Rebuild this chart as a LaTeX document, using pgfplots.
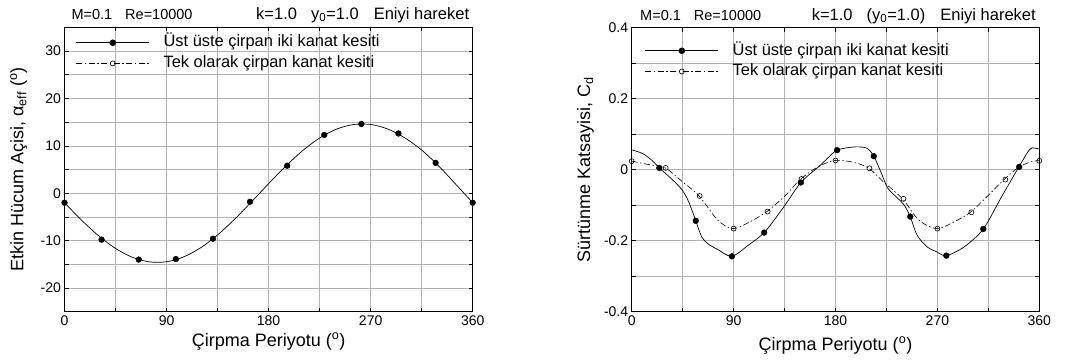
\documentclass[border=0pt]{standalone}
\usepackage{fontspec}
\setmainfont{Liberation Sans}
\usepackage{pgfplots}
\usepackage{pgfplotstable}
\pgfplotsset{compat=1.18}

% Effective angle of attack over one flapping period
\pgfplotstableread{
th a
0   -2.01
15  -5.68
30  -8.97
45  -11.65
60  -13.53
75  -14.49
90  -14.46
105 -13.45
120 -11.52
135 -8.81
150 -5.49
165 -1.80
180  2.01
195  5.68
210  8.97
225  11.65
240  13.53
255  14.49
270  14.50
285  13.55
300  11.70
315  9.10
330  5.75
345  1.90
360 -2.01
}\alphaline
\pgfplotstableread{
th a
0     -2.0
32.7  -9.8
65.5  -14.0
98.2  -13.9
130.9 -9.6
163.6 -1.8
196.4  5.8
229.1  12.3
261.8  14.6
294.5  12.6
327.3  6.4
360   -2.0
}\alphamarks

% Drag coefficient: biplane (two airfoils flapping on top of each other)
\pgfplotstableread{
th cd
0     0.056
10    0.045
18.7  0.024
24.4  0.005
35.9 -0.028
44.5 -0.057
50.3 -0.090
56.6 -0.144
61.8 -0.189
67.5 -0.209
76.1 -0.225
88.5 -0.244
102  -0.215
117  -0.177
133.6 -0.108
149.4 -0.036
165   0.008
173   0.032
181.4 0.055
195.9 0.064
207.4 0.061
213.8 0.038
220.4 -0.009
226.2 -0.052
234.8 -0.080
240.5 -0.099
246  -0.132
252  -0.184
260.7 -0.217
269.3 -0.231
277.9 -0.242
293.8 -0.217
310.5 -0.167
326.9 -0.075
342.2 0.009
351.4 0.057
355.7 0.061
360   0.058
}\cdbiline
\pgfplotstableread{
th cd
24.4   0.005
56.6  -0.144
88.5  -0.244
117   -0.177
149.4 -0.036
181.4  0.055
213.8  0.038
246   -0.132
277.9 -0.242
310.5 -0.167
342.2  0.008
}\cdbimarks

% Drag coefficient: single flapping airfoil
\pgfplotstableread{
th cd
0     0.024
15.8  0.014
29.6  0.005
44.5 -0.033
59.5 -0.074
76   -0.142
89.4 -0.166
105  -0.146
119.3 -0.118
135  -0.075
149.4 -0.026
165   0.009
179.5 0.026
195.9 0.021
209.5 0.004
221.9 -0.033
239.2 -0.082
253.6 -0.142
269.5 -0.166
285.3 -0.146
299.1 -0.120
314.1 -0.075
328.8 -0.028
342.3 0.008
354.4 0.024
360   0.025
}\cdmonoline
\pgfplotstableread{
th cd
0    0.024
30   0.005
60  -0.074
90  -0.166
120 -0.118
150 -0.026
180  0.026
210  0.004
240 -0.082
270 -0.166
300 -0.120
330 -0.028
360  0.025
}\cdmonomarks

\newcommand\labelfont{\fontsize{18}{21.5}\selectfont}

\pgfplotsset{
  panel/.style={
    scale only axis,
    xmin=0, xmax=360,
    xtick={0,90,180,270,360},
    minor xtick={45,135,225,315},
    grid=both,
    grid style={gray!60, line width=0.5pt},
    minor grid style={gray!60, line width=0.5pt},
    axis line style={black, line width=0.8pt},
    tick style={black, line width=0.5pt},
    major tick length=4pt, minor tick length=4pt,
    tick align=inside,
    /pgf/number format/assume math mode=true,
    ticklabel style={font=\fontsize{14}{16}\selectfont},
    xlabel style={anchor=base},
    ylabel style={anchor=base},
    clip mode=individual,
    legend cell align=left,
    legend image code/.code={%
      \draw[mark repeat=2,mark phase=2] plot coordinates {(0pt,0pt) (36.5pt,0pt) (73pt,0pt)};},
    legend style={draw=none, fill=none, inner sep=0pt, outer sep=0pt,
      font=\fontsize{16.4}{18}\selectfont, row sep=5.2pt, column sep=14pt,
      nodes={inner sep=0pt, text height=12pt, text depth=3.5pt}},
  },
  biplane/.style={black, line width=0.7pt},
  biplanemark/.style={black, only marks, mark=*, mark size=2.9pt, mark options={solid, fill=black}},
  mono/.style={black, line width=0.6pt, dash pattern=on 6pt off 2.5pt on 1.5pt off 2.5pt},
  monomark/.style={black, only marks, mark=o, mark size=2.5pt, mark options={solid, fill=white, line width=0.6pt}},
}

\begin{document}
\begin{tikzpicture}
\useasboundingbox (0pt,0pt) rectangle (1066pt,-362pt);

\begin{axis}[panel,
  at={(64.5pt,-311.7pt)}, anchor=south west,
  width=408.2pt, height=284.4pt,
  ymin=-25, ymax=35,
  ytick={-20,-10,0,10,20,30},
  minor ytick={-15,-5,5,15,25},
  xlabel={\labelfont Çirpma Periyotu (\textsuperscript{o})},
  ylabel={\labelfont Etkin Hücum Açisi, α\textsubscript{eff} (\textsuperscript{o})},
  xlabel style={at={(axis description cs:0.5,-0.1206)}},
  ylabel style={at={(axis description cs:-0.101,0.5)}},
  legend style={at={(rel axis cs:0.028,0.973)}, anchor=north west},
]
\addlegendimage{biplane, mark=*, mark size=2.9pt, mark options={solid, fill=black}}
\addlegendentry{Üst üste çirpan iki kanat kesiti}
\addlegendimage{mono, mark=o, mark size=2.5pt, mark options={solid, fill=white}}
\addlegendentry{Tek olarak çirpan kanat kesiti}
\addplot[biplane, smooth, forget plot] table[x=th, y=a] {\alphaline};
\addplot[biplanemark, forget plot] table[x=th, y=a] {\alphamarks};
\node[anchor=base west, font=\fontsize{14.5}{16}\selectfont]
  at (rel axis cs:0,1) [xshift=3.5pt, yshift=8pt] {M=0.1\hspace*{13pt}Re=10000};
\node[anchor=base east, font=\fontsize{16.5}{18}\selectfont]
  at (rel axis cs:1,1) [yshift=8pt] {k=1.0\hspace*{14pt}y\textsubscript{0}=1.0\hspace*{15pt}Eniyi hareket};
\end{axis}

\begin{axis}[panel,
  at={(631.7pt,-311.7pt)}, anchor=south west,
  width=407.6pt, height=284pt,
  ymin=-0.4, ymax=0.4,
  ytick={-0.4,-0.2,0,0.2,0.4},
  minor ytick={-0.3,-0.1,0.1,0.3},
  xlabel={\labelfont Çirpma Periyotu (\textsuperscript{o})},
  ylabel={\labelfont Sürtünme Katsayisi, C\textsubscript{d}},
  xlabel style={at={(axis description cs:0.5,-0.1349)}},
  ylabel style={at={(axis description cs:-0.1023,0.5)}},
  legend style={at={(rel axis cs:0.0326,0.946)}, anchor=north west},
]
\addlegendimage{biplane, mark=*, mark size=2.9pt, mark options={solid, fill=black}}
\addlegendentry{Üst üste çirpan iki kanat kesiti}
\addlegendimage{mono, mark=o, mark size=2.5pt, mark options={solid, fill=white}}
\addlegendentry{Tek olarak çirpan kanat kesiti}
\addplot[mono, smooth, forget plot] table[x=th, y=cd] {\cdmonoline};
\addplot[biplane, smooth, tension=0.5, forget plot] table[x=th, y=cd] {\cdbiline};
\addplot[monomark, forget plot] table[x=th, y=cd] {\cdmonomarks};
\addplot[biplanemark, forget plot] table[x=th, y=cd] {\cdbimarks};
\node[anchor=base west, font=\fontsize{14.5}{16}\selectfont]
  at (rel axis cs:0,1) [xshift=5pt, yshift=7.7pt] {M=0.1\hspace*{13pt}Re=10000};
\node[anchor=base east, font=\fontsize{16.5}{18}\selectfont]
  at (rel axis cs:1,1) [yshift=7.7pt] {k=1.0\hspace*{14pt}(y\textsubscript{0}=1.0)\hspace*{15pt}Eniyi hareket};
\end{axis}
\end{tikzpicture}
\end{document}
